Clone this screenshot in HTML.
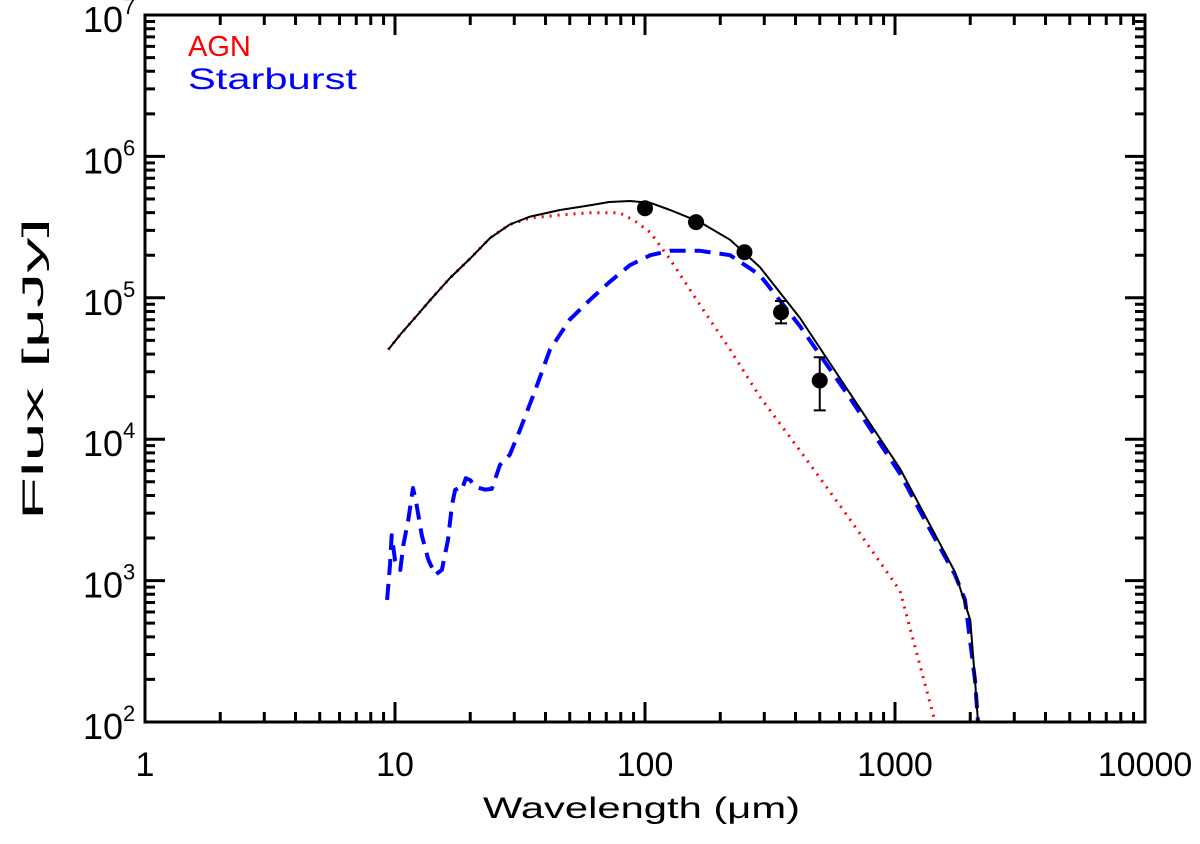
<!DOCTYPE html>
<html><head><meta charset="utf-8"><style>
body{margin:0;background:#fff}
svg text{font-family:"Liberation Sans",sans-serif;fill:#000}
</style></head><body>
<svg id="chart" width="1200" height="839" viewBox="0 0 1200 839" xmlns="http://www.w3.org/2000/svg">
<g id="marks"></g>
<rect x="145" y="15" width="1000" height="707" fill="none" stroke="#000" stroke-width="3"/>
<g id="axes"></g>
<text x="188" y="56" font-size="29" style="fill:#f00">AGN</text>
<text x="188" y="89" font-size="30" textLength="169" lengthAdjust="spacingAndGlyphs" style="fill:#00f">Starburst</text>
<text x="483" y="818" font-size="30" textLength="317" lengthAdjust="spacingAndGlyphs">Wavelength (μm)</text>
<text transform="translate(43,520) rotate(-90)" font-size="30" textLength="302" lengthAdjust="spacingAndGlyphs">Flux [μJy]</text>
</svg>
<script>
const agnWave=[9.4,10.5,12.0,13.8,16.6,20,24,28.8,34.7,45.7,60,79,91,105,126,166,219,288,417,661,1047,1432];
const agnFlux=[4.3e4,5.5e4,7.2e4,9.6e4,1.38e5,1.9e5,2.65e5,3.3e5,3.67e5,3.85e5,4.0e5,4.0e5,3.5e5,2.9e5,1.87e5,8.9e4,4.3e4,2.0e4,8.3e3,2.7e3,850,107];
const sbWave=[9.3,9.55,9.7,10,10.5,10.8,11.3,11.8,12.2,12.8,13.6,14.5,15.4,16.3,16.9,17.4,17.9,18.5,19.2,20,20.9,22.9,24.4,26.3,28.8,31.6,36.3,41.7,50,60,72,87,105,126,166,219,288,417,661,1047,1380,1738,1905,2089,2148];
const sbFlux=[730,1290,2090,1400,1190,1790,2690,4520,3430,2090,1400,1100,1190,1940,3430,4370,4500,4370,5300,5130,4600,4400,4450,6580,7770,1.16e4,2.2e4,4.3e4,7e4,9.6e4,1.29e5,1.7e5,2.0e5,2.15e5,2.15e5,2.0e5,1.45e5,6.3e4,1.95e4,5700,2300,1100,730,198,100];
const totWave=[9.4,10.5,12.0,13.8,16.6,20,24,28.8,34.7,45.7,60,72,87,105,126,166,219,288,417,661,1047,1738,2000,2089,2148];
const totFlux=[4.3e4,5.5e4,7.2e4,9.6e4,1.38e5,1.9e5,2.65e5,3.3e5,3.75e5,4.18e5,4.5e5,4.76e5,4.84e5,4.7e5,4.18e5,3.43e5,2.57e5,1.65e5,7.2e4,2.1e4,6200,1150,525,198,100];
const obsWave=[100,160,250,350,500];
const obsFlux=[4.3e5,3.43e5,2.1e5,7.9e4,2.6e4];
const obsLo=[4.3e5,3.43e5,2.1e5,6.6e4,1.6e4];
const obsHi=[4.3e5,3.43e5,2.1e5,9.5e4,3.8e4];
const xTicks=[1,10,100,1000,10000];
const xTickLabels=["1","10","100","1000","10000"];
const yTicks=[2,3,4,5,6,7];

const NS="http://www.w3.org/2000/svg";
const X0=145,X1=1145,Y0=722,Y1=15;
function sx(v){return X0+(Math.log10(v)-0)/4*(X1-X0);}
function sy(v){return Y0-(Math.log10(v)-2)/5*(Y0-Y1);}
const marks=document.getElementById('marks'),axes=document.getElementById('axes');
function mk(tag,attrs,parent){const e=document.createElementNS(NS,tag);for(const k in attrs)e.setAttribute(k,attrs[k]);parent.appendChild(e);return e;}
function line(w,f,color,width,dash,name){
  const d=w.map((v,i)=>(i?'L':'M')+sx(v).toFixed(1)+','+sy(f[i]).toFixed(1)).join('');
  const p=mk('path',{d:d,fill:'none',stroke:color,'stroke-width':width,'stroke-dasharray':dash||'none','stroke-linejoin':'round'},marks);
  
  
}
const clip=mk('clipPath',{id:'c'},document.getElementById('chart'));
mk('rect',{x:X0,y:Y1,width:X1-X0,height:Y0-Y1},clip);
marks.setAttribute('clip-path','url(#c)');
line(sbWave,sbFlux,'#00f',4,'16,9','starburst-line');
line(agnWave,agnFlux,'#f00',3,'2,6','agn-line');
line(totWave,totFlux,'#000',2,null,'total-line');
obsWave.forEach((w,i)=>{
  const x=sx(w);
  if(obsHi[i]!==obsLo[i]){
    const g=mk('path',{d:`M${x},${sy(obsHi[i])}V${sy(obsLo[i])}M${x-6},${sy(obsHi[i])}h12M${x-6},${sy(obsLo[i])}h12`,stroke:'#000','stroke-width':2,fill:'none'},marks);
    
    
  }
  const c=mk('circle',{cx:x,cy:sy(obsFlux[i]),r:8,fill:'#000'},marks);
  
  
});
let td='';
for(let d=0;d<4;d++)for(let m=1;m<=9;m++){
  const v=Math.pow(10,d)*m;const x=sx(v);const L=m===1?20:10;
  if(m===1&&d===0)continue;
  td+=`M${x},${Y0}v${-L}M${x},${Y1}v${L}`;
}
for(let d=2;d<7;d++)for(let m=1;m<=9;m++){
  const v=Math.pow(10,d)*m;const y=sy(v);const L=m===1?20:10;
  if(m===1&&d===2)continue;
  td+=`M${X0},${y}h${L}M${X1},${y}h${-L}`;
}
const tp=mk('path',{d:td,stroke:'#000','stroke-width':3,fill:'none'},axes);


xTicks.forEach((v,i)=>{
  const t=mk('text',{x:sx(v),y:Y0+54,'font-size':34,'text-anchor':'middle'},axes);
  t.textContent=xTickLabels[i];
  
  
});
yTicks.forEach(p=>{
  const y=sy(Math.pow(10,p));
  const t=mk('text',{x:X0-22,y:y+17,'font-size':36,'text-anchor':'end'},axes);
  t.textContent='10';
  
  
  const s=mk('text',{x:X0-22,y:y-1,'font-size':22,'text-anchor':'start'},axes);
  s.textContent=String(p);
  
  
});
</script>
</body></html>
